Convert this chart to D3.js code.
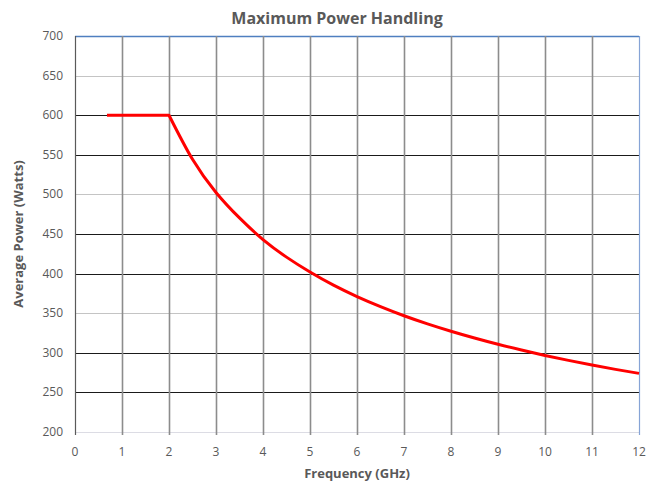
<!DOCTYPE html>
<html>
<head>
<meta charset="utf-8">
<script src="https://cdn.jsdelivr.net/npm/d3@7"></script>
<style>
  body { margin: 0; background: #fff; }
  svg { display: block; font-family: "Open Sans", "Noto Sans", sans-serif; }
  .tick-label { fill: #595959; font-size: 12px; }
  .axis-title { fill: #595959; font-size: 13px; font-weight: bold; }
  .chart-title { fill: #595959; font-size: 16px; font-weight: bold; }
</style>
</head>
<body>
<svg id="chart"></svg>
<script>
'use strict';

// frequency (GHz) and average power (W)
var freqs  = [0.68, 1, 1.5, 2, 2.5, 3, 3.5, 4, 4.5, 5, 5.5, 6, 6.5, 7, 7.5, 8, 8.5, 9, 9.5, 10, 10.5, 11, 11.5, 12];
var powers = [600, 600, 600, 600, 544.3, 502.5, 470.3, 443.0, 420.8, 402.0, 385.4, 371.0, 358.3, 346.8,
              336.5, 327.2, 318.6, 310.7, 303.5, 296.7, 290.4, 284.6, 279.1, 274.0];
var kneeFreq = 2;   // where the flat limit ends

var xTicks = [0, 1, 2, 3, 4, 5, 6, 7, 8, 9, 10, 11, 12];
var yTicks = [200, 250, 300, 350, 400, 450, 500, 550, 600, 650, 700];
var lightRows = [200, 350, 500, 650];   // gridlines drawn light grey

var chartDim = { width: 647, height: 481 };
var margin = { top: 36, right: 8, bottom: 49, left: 75 };
var width = chartDim.width - margin.left - margin.right;
var height = chartDim.height - margin.top - margin.bottom;

var x = d3.scaleLinear().domain([0, 12]).range([0, width]);
var y = d3.scaleLinear().domain([200, 700]).range([height, 0]);

var svg = d3.select("#chart")
    .attr("width", chartDim.width)
    .attr("height", chartDim.height);

var g = svg.append("g")
    .attr("transform", "translate(" + margin.left + "," + margin.top + ")");

// horizontal gridlines
g.selectAll(".hgrid")
    .data(yTicks)
    .enter().append("line")
    .attr("class", "hgrid")
    .attr("x1", 0)
    .attr("x2", width)
    .attr("y1", function(d) { return Math.round(y(d)) + 0.5; })
    .attr("y2", function(d) { return Math.round(y(d)) + 0.5; })
    .attr("stroke", function(d) {
        if (d === 700) return "#4f7fc0";
        if (d === 200) return "#dcdce4";
        return lightRows.indexOf(d) >= 0 ? "#c4c4c4" : "#1a1a1a";
    })
    .attr("stroke-width", function(d) { return d === 700 ? 1.3 : 1; });

// vertical gridlines
g.selectAll(".vgrid")
    .data(xTicks)
    .enter().append("line")
    .attr("class", "vgrid")
    .attr("y1", 0)
    .attr("y2", height + 3)
    .attr("x1", function(d) { return Math.round(x(d)) + 0.5; })
    .attr("x2", function(d) { return Math.round(x(d)) + 0.5; })
    .attr("stroke", function(d) {
        if (d === 12) return "#86a4d6";
        if (d === 0) return "#5a5a5a";
        return "#8c8c8c";
    })
    .attr("stroke-width", function(d) { return (d === 0 || d === 12) ? 1.2 : 1.6; });

// tick labels
g.selectAll(".xlab")
    .data(xTicks)
    .enter().append("text")
    .attr("class", "tick-label")
    .attr("x", function(d) { return x(d); })
    .attr("y", height + 24)
    .attr("text-anchor", "middle")
    .text(function(d) { return d; });

g.selectAll(".ylab")
    .data(yTicks)
    .enter().append("text")
    .attr("class", "tick-label")
    .attr("x", -12)
    .attr("y", function(d) { return y(d) + 4; })
    .attr("text-anchor", "end")
    .text(function(d) { return d; });

// the power curve: flat part straight, roll-off part smoothed
var pts = d3.zip(freqs, powers);
var flatPts = pts.filter(function(d) { return d[0] <= kneeFreq; });
var dropPts = pts.filter(function(d) { return d[0] >= kneeFreq; });

var flatLine = d3.line()
    .x(function(d) { return x(d[0]); })
    .y(function(d) { return y(d[1]); });

var dropLine = d3.line()
    .x(function(d) { return x(d[0]); })
    .y(function(d) { return y(d[1]); })
    .curve(d3.curveNatural);

g.append("path")
    .attr("fill", "none")
    .attr("stroke", "#ff0000")
    .attr("stroke-width", 3)
    .attr("stroke-linejoin", "round")
    .attr("d", flatLine(flatPts) + dropLine(dropPts).replace(/^M/, "L"));

// titles
svg.append("text")
    .attr("class", "chart-title")
    .attr("x", 337)
    .attr("y", 24)
    .attr("text-anchor", "middle")
    .text("Maximum Power Handling");

svg.append("text")
    .attr("class", "axis-title")
    .attr("x", margin.left + width / 2)
    .attr("y", 478)
    .attr("text-anchor", "middle")
    .text("Frequency (GHz)");

svg.append("text")
    .attr("class", "axis-title")
    .attr("transform", "translate(23," + (margin.top + height / 2) + ") rotate(-90)")
    .attr("text-anchor", "middle")
    .text("Average Power (Watts)");
</script>
</body>
</html>
